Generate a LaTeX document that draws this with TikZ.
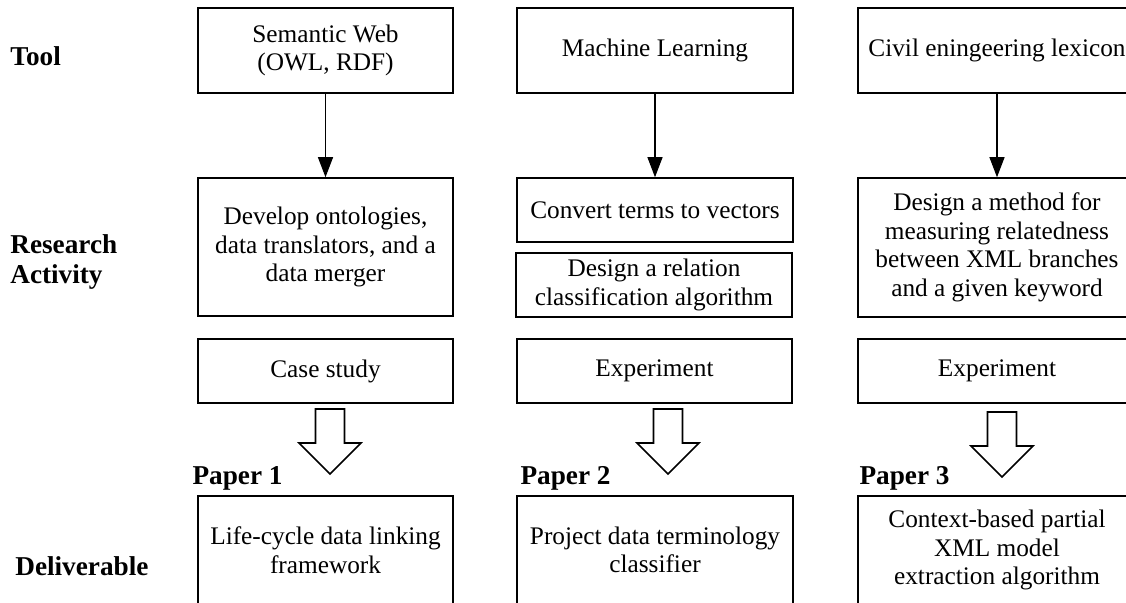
\documentclass[tikz,border=0pt]{standalone}
\usepackage{fontspec}
\setmainfont{Liberation Serif}
\usepackage{tikz}
\usetikzlibrary{positioning,calc,arrows.meta}

\tikzset{
    box/.style={draw, line width=0.9pt, align=center, inner sep=2pt},
    rowlabel/.style={font=\fontsize{15.5}{17.5}\selectfont\bfseries, align=left, anchor=west, inner sep=0pt},
    paperlabel/.style={font=\fontsize{15.5}{17.5}\selectfont\bfseries, anchor=base west, inner sep=0pt},
    thinarrow/.style={-{Triangle[length=0.4cm, width=0.3cm]}, line width=0.6pt},
    blockarrow/.style={draw, line width=0.9pt, fill=white}
}

\begin{document}
\begin{tikzpicture}[x=0.02cm, y=-0.02cm, font=\fontsize{14.4}{16.2}\selectfont]
    \useasboundingbox (0,0) rectangle (1126,602);
    \clip (0,0) rectangle (1126,602);

    % row labels
    \node [rowlabel] (tool) at (10,56) {Tool};
    \node [rowlabel] (activity) at (10,262) {Research\\Activity};
    \node [rowlabel] (deliv) at (15,566) {Deliverable};

    % tools
    \node [box, minimum width=5.1cm, minimum height=1.7cm] (sw) at (325.5,50.5) {Semantic Web\\(OWL, RDF)};
    \node [box, minimum width=5.52cm, minimum height=1.7cm] (ml) at (655,50.5) {Machine Learning};
    \node [box, minimum width=5.56cm, minimum height=1.7cm] (lex) at (997,50.5) {Civil eningeering lexicon};

    % research activities
    \node [box, minimum width=5.1cm, minimum height=2.76cm] (onto) at (325.5,247) {Develop ontologies,\\data translators, and a\\data merger};
    \node [box, minimum width=5.52cm, minimum height=1.28cm] (vec) at (655,210) {Convert terms to vectors};
    \node [box, minimum width=5.52cm, minimum height=1.28cm] (rel) at (654,285) {Design a relation\\classification algorithm};
    \node [box, minimum width=5.56cm, minimum height=2.78cm] (meas) at (997,247.5) {Design a method for\\measuring relatedness\\between XML branches\\and a given keyword};

    \node [box, minimum width=5.1cm, minimum height=1.28cm] (case) at (325.5,371) {Case study};
    \node [box, minimum width=5.5cm, minimum height=1.28cm] (exp2) at (654.5,371) {Experiment};
    \node [box, minimum width=5.56cm, minimum height=1.28cm] (exp3) at (997,371) {Experiment};

    % deliverables
    \node [box, minimum width=5.1cm, minimum height=2.16cm] (life) at (325.5,550) {Life-cycle data linking\\framework};
    \node [box, minimum width=5.52cm, minimum height=2.16cm] (term) at (655,550) {Project data terminology\\classifier};
    \node [box, minimum width=5.56cm, minimum height=2.16cm] (ctx) at (997,550) {Context-based partial\\XML model\\extraction algorithm};

    \node [paperlabel] (p1) at ($(life.north west)+(-5,-11)$) {Paper 1};
    \node [paperlabel] (p2) at ($(term.north west)+(4,-11)$) {Paper 2};
    \node [paperlabel] (p3) at ($(ctx.north west)+(2,-11)$) {Paper 3};

    % arrows
    \draw [thinarrow] (sw) -- (onto);
    \draw [thinarrow] (ml) -- (vec);
    \draw [thinarrow] (lex) -- (meas);

    \foreach \x/\y in {330/409, 668/409, 1002/412} {
        \draw [blockarrow] (\x-14.5,\y) -- (\x+14.5,\y) -- (\x+14.5,\y+34) -- (\x+31,\y+34)
            -- (\x,\y+65) -- (\x-31,\y+34) -- (\x-14.5,\y+34) -- cycle;
    }
\end{tikzpicture}
\end{document}
